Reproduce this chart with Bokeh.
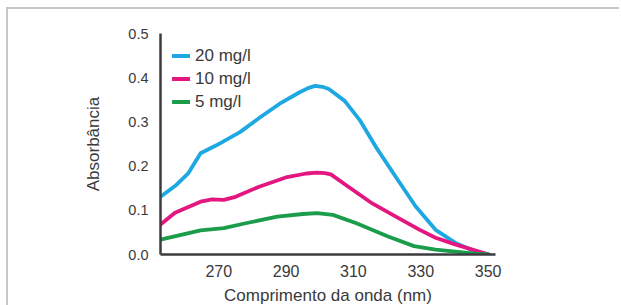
from bokeh.plotting import figure
from bokeh.models import Range1d, FixedTicker, Legend, LegendItem, PrintfTickFormatter
from bokeh.embed import file_html
from bokeh.resources import INLINE

# wavelength (nm) / absorbance readings
nm_20 = [252.7, 257.4, 261.0, 264.6, 269.3, 276.3, 282.2, 288.0, 293.9, 296.5, 298.6,
         300.8, 302.7, 307.4, 312.0, 316.7, 322.6, 328.5, 334.4, 340.2, 346.1, 350.2]
abs_20 = [0.131, 0.158, 0.185, 0.230, 0.248, 0.278, 0.311, 0.342, 0.368, 0.378, 0.383,
          0.381, 0.376, 0.349, 0.304, 0.244, 0.176, 0.109, 0.056, 0.027, 0.007, 0.0]

nm_10 = [252.7, 257.0, 264.6, 268.0, 271.5, 275.0, 282.0, 290.3, 296.0, 299.2, 301.5,
         303.3, 308.5, 315.6, 322.6, 329.7, 334.4, 340.2, 350.2]
abs_10 = [0.068, 0.095, 0.120, 0.125, 0.124, 0.131, 0.154, 0.176, 0.184, 0.186, 0.185,
          0.182, 0.154, 0.116, 0.086, 0.056, 0.038, 0.023, 0.0]

nm_5 = [252.7, 264.6, 271.5, 278.0, 287.4, 295.0, 299.2, 303.9, 310.9, 320.3, 328.0,
        334.4, 346.1, 350.2]
abs_5 = [0.034, 0.055, 0.060, 0.071, 0.086, 0.092, 0.094, 0.090, 0.071, 0.041, 0.019,
         0.011, 0.002, 0.0]

x_ticks = [270, 290, 310, 330, 350]
y_ticks = [0.0, 0.1, 0.2, 0.3, 0.4, 0.5]
labels = ["20 mg/l", "10 mg/l", "5 mg/l"]
colors = ["#1ea8e2", "#e3177f", "#1b9c4b"]
x_title = "Comprimento da onda (nm)"
y_title = "Absorbância"
x_start, x_end = 252.7, 352.2
y_start, y_end = 0.0, 0.502

FONT = "Liberation Sans"
TXT = "#3a3a3a"
AXIS = "#3c3c40"

p = figure(width=613, height=298, output_backend="svg", toolbar_location=None,
           x_range=Range1d(x_start, x_end), y_range=Range1d(y_start, y_end),
           min_border_left=152, min_border_right=126, min_border_top=24,
           min_border_bottom=50,
           styles={"margin-left": "6px", "margin-top": "7px",
                   "border-left": "2px solid #c8c8c8",
                   "border-top": "2px solid #c8c8c8"})
p.outline_line_color = None
p.grid.grid_line_color = None

r20 = p.line(nm_20, abs_20, line_color=colors[0], line_width=3.8, line_join="round", line_cap="round")
r10 = p.line(nm_10, abs_10, line_color=colors[1], line_width=3.8, line_join="round", line_cap="round")
r5 = p.line(nm_5, abs_5, line_color=colors[2], line_width=3.8, line_join="round", line_cap="round")

p.axis.axis_line_color = AXIS
p.axis.axis_line_width = 2.5
p.axis.axis_line_alpha = 1.0
p.axis.major_tick_line_color = None
p.axis.minor_tick_line_color = None
p.axis.major_tick_out = 0
p.axis.major_tick_in = 0
p.axis.major_label_text_font = FONT
p.axis.major_label_text_color = TXT
p.axis.axis_label_text_font = FONT
p.axis.axis_label_text_font_style = "normal"
p.axis.axis_label_text_color = TXT

p.xaxis.ticker = FixedTicker(ticks=x_ticks)
p.yaxis.ticker = FixedTicker(ticks=y_ticks)
p.yaxis.formatter = PrintfTickFormatter(format="%.1f")
p.xaxis.major_label_text_font_size = "16px"
p.yaxis.major_label_text_font_size = "14.5px"
p.xaxis.major_label_standoff = 10
p.yaxis.major_label_standoff = 12
p.xaxis.axis_label = x_title
p.xaxis.axis_label_text_font_size = "17px"
p.xaxis.axis_label_standoff = 6
p.yaxis.axis_label = y_title
p.yaxis.axis_label_text_font_size = "17px"
p.yaxis.axis_label_standoff = 22

legend = Legend(items=[LegendItem(label=labels[0], renderers=[r20]),
                       LegendItem(label=labels[1], renderers=[r10]),
                       LegendItem(label=labels[2], renderers=[r5])],
                location=(12, 141), padding=0, margin=0, spacing=0,
                glyph_width=18, glyph_height=23, label_height=23,
                label_standoff=5, border_line_color=None,
                background_fill_alpha=0,
                label_text_font=FONT, label_text_font_size="17px",
                label_text_color=TXT)
p.add_layout(legend, "center")

open("out.html", "w").write(file_html(p, INLINE))
